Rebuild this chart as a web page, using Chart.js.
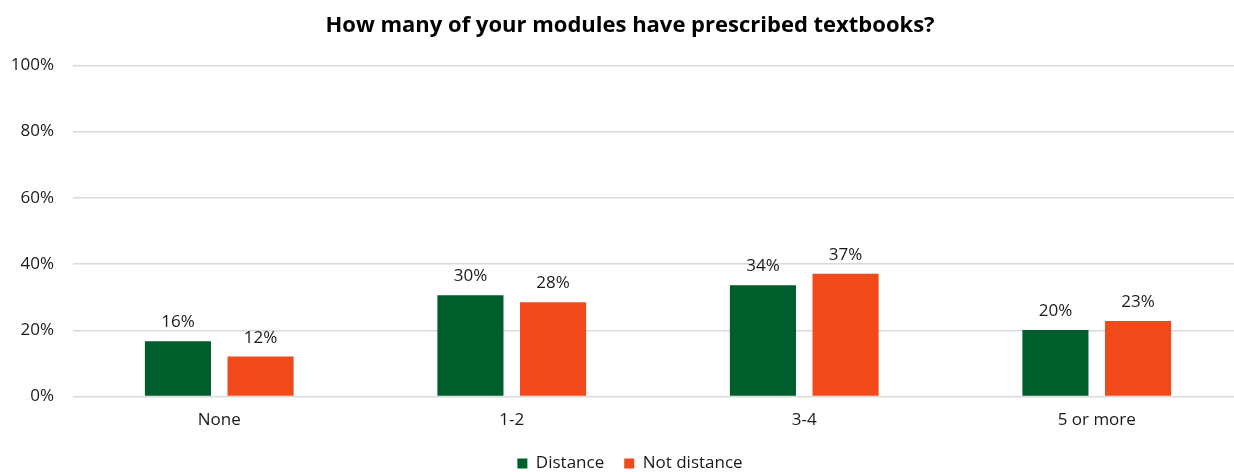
<!DOCTYPE html>
<html lang="en">
<head>
  <meta charset="UTF-8">
  <title>Prescribed textbooks</title>
  <script src="https://cdn.jsdelivr.net/npm/chart.js"></script>
  <style>
    body{
      margin: 0;
      overflow: hidden;
      background: #fff;
    }
    #wrap {
      width: 1260px;
      height: 472px;
    }
  </style>
</head>
<body>
  <div id="wrap">
    <canvas id="myChart" width="1260" height="472"></canvas>
  </div>

  <script>
    const categories = ['None', '1-2', '3-4', '5 or more'];
    const distance = [16.7, 30.6, 33.6, 20.1];
    const notDistance = [12.1, 28.5, 37.1, 22.8];
    // printed labels as they appear on the chart
    const distanceLabels = ['16%', '30%', '34%', '20%'];
    const notDistanceLabels = ['12%', '28%', '37%', '23%'];
    const yTicks = [0, 20, 40, 60, 80, 100];

    const FONT = '"Open Sans", "Noto Sans", sans-serif';

    // draws the value labels above each bar
    const barLabels = {
      id: 'barLabels',
      afterDatasetsDraw(chart) {
        const ctx = chart.ctx;
        ctx.save();
        ctx.font = '17px ' + FONT;
        ctx.fillStyle = '#1a1a1a';
        ctx.textAlign = 'center';
        ctx.textBaseline = 'alphabetic';
        chart.data.datasets.forEach((ds, i) => {
          chart.getDatasetMeta(i).data.forEach((bar, j) => {
            ctx.fillText(ds.printed[j], bar.x, bar.y - 14);
          });
        });
        ctx.restore();
      }
    };

    const ctx = document.getElementById('myChart').getContext('2d');
    const myChart = new Chart(ctx, {
      type: 'bar',
      data: {
        labels: categories,
        datasets: [{
          label: 'Distance',
          data: distance,
          printed: distanceLabels,
          backgroundColor: '#005E2C',
          categoryPercentage: 0.565,
          barPercentage: 0.8
        },
        {
          label: 'Not distance',
          data: notDistance,
          printed: notDistanceLabels,
          backgroundColor: '#F04A1A',
          categoryPercentage: 0.565,
          barPercentage: 0.8
        }]
      },
      options: {
        responsive: false,
        animation: false,
        // the original picture is cut off on the right, so the canvas is wider than the window
        layout: {
          padding: { left: 0, right: 0, top: 0, bottom: -10 }
        },
        scales: {
          x: {
            grid: { display: false },
            border: { display: false },
            ticks: {
              color: '#1a1a1a',
              font: { family: FONT, size: 17 },
              padding: 5
            }
          },
          y: {
            min: 0,
            max: 100,
            afterBuildTicks(scale) {
              scale.ticks = yTicks.map(v => ({ value: v }));
            },
            afterFit(scale) {
              scale.width = 73;
            },
            grid: { color: '#D9D9D9', lineWidth: 1.5, drawTicks: false },
            border: { display: false },
            ticks: {
              color: '#1a1a1a',
              font: { family: FONT, size: 17 },
              padding: 19,
              callback: v => v + '%'
            }
          },
          // empty spacer on the right so title and legend stay centred on the full canvas
          spacer: {
            type: 'linear',
            axis: 'y',
            position: 'right',
            grid: { display: false },
            border: { display: false },
            ticks: { display: false },
            afterFit(scale) {
              scale.width = 17;
            }
          }
        },
        plugins: {
          title: {
            display: true,
            text: 'How many of your modules have prescribed textbooks?',
            color: '#000',
            font: { family: FONT, size: 22, weight: 'bold' },
            padding: { top: 13, bottom: 26 }
          },
          legend: {
            position: 'bottom',
            labels: {
              color: '#1a1a1a',
              font: { family: FONT, size: 17 },
              boxWidth: 10,
              boxHeight: 10,
              padding: 20
            }
          },
          tooltip: { enabled: false }
        }
      },
      plugins: [barLabels]
    });
  </script>
</body>
</html>
